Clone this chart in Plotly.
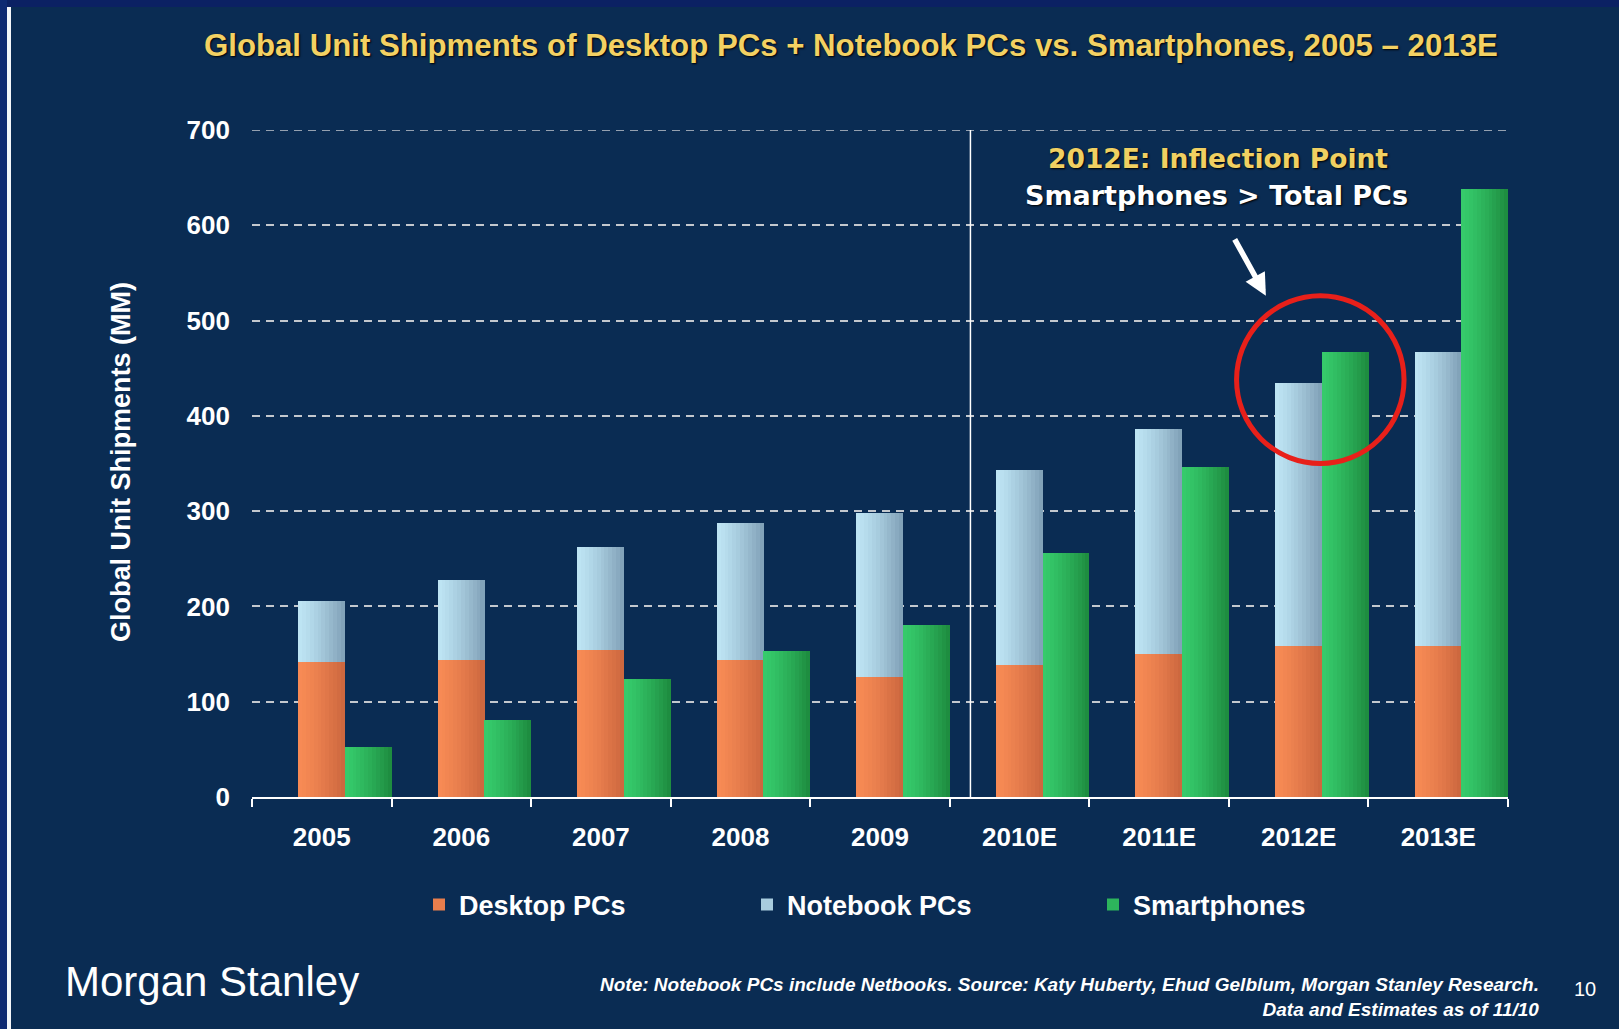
import plotly.graph_objects as go

# ---------------- data ----------------
years = ["2005", "2006", "2007", "2008", "2009", "2010E", "2011E", "2012E", "2013E"]
desktop_pcs = [142, 144, 154, 144, 126, 139, 150, 158, 158]
notebook_pcs = [64, 84, 108, 144, 172, 204, 236, 276, 309]
smartphones = [53, 81, 124, 153, 181, 256, 346, 467, 638]
y_tick_values = [0, 100, 200, 300, 400, 500, 600, 700]

# ---------------- geometry helpers ----------------
FIG_W, FIG_H = 1619, 1029
L, R, T, B = 252, 1508, 130, 797
PW, PH = R - L, B - T


def px(x):
    return (x - L) / PW


def py(y):
    return (B - y) / PH


def hex2rgb(h):
    h = h.lstrip("#")
    return tuple(int(h[i:i + 2], 16) for i in (0, 2, 4))


def mix(c1, c2, t):
    a, b = hex2rgb(c1), hex2rgb(c2)
    return "rgb(%d,%d,%d)" % tuple(round(a[i] + (b[i] - a[i]) * t) for i in range(3))


BAR_W = 0.335
OFF_PC = -0.17
OFF_SP = 0.165
NSTRIP = 12

fig = go.Figure()


def add_series(name, values, base, offset, c_left, c_right, legend_id):
    fig.add_trace(go.Bar(
        x=years, y=values, base=base, offset=offset, width=BAR_W, name=name,
        marker=dict(color=mix(c_left, c_right, 0.35), line=dict(width=0)),
        showlegend=True, legend=legend_id, hoverinfo="skip"))
    for k in range(NSTRIP):
        t = (k + 0.5) / NSTRIP
        fig.add_trace(go.Bar(
            x=years, y=values, base=base, offset=offset + k * BAR_W / NSTRIP,
            width=BAR_W / NSTRIP * 1.04,
            marker=dict(color=mix(c_left, c_right, t ** 1.3), line=dict(width=0)),
            showlegend=False, hoverinfo="skip"))


add_series("Desktop PCs", desktop_pcs, None, OFF_PC, "#F88B55", "#CB663E", "legend")
add_series("Notebook PCs", notebook_pcs, desktop_pcs, OFF_PC, "#BEE5F4", "#7F9FB6", "legend2")
add_series("Smartphones", smartphones, None, OFF_SP, "#36CB6C", "#1D8A3E", "legend3")

TICK_FONT = dict(family="Liberation Sans, Arial", size=26, color="white", weight="bold")
LEGEND_FONT = dict(family="Liberation Sans, Arial", size=27, color="white", weight="bold")
GRID_COLOR = "rgba(228,228,228,0.85)"


def legend_at(x_px):
    return dict(orientation="h", x=px(x_px), xanchor="left", y=py(905), yanchor="middle",
                font=LEGEND_FONT, bgcolor="rgba(0,0,0,0)")


fig.update_layout(
    width=FIG_W, height=FIG_H,
    margin=dict(l=L, r=FIG_W - R, t=T, b=FIG_H - B, autoexpand=False),
    paper_bgcolor="#0A2C53", plot_bgcolor="rgba(0,0,0,0)",
    barmode="overlay", bargap=0,
    legend=legend_at(419),
    legend2=legend_at(747),
    legend3=legend_at(1093),
    xaxis=dict(type="category", range=[-0.5, 8.5], showline=True, linecolor="white", linewidth=2,
               ticks="outside", tickson="boundaries", ticklen=8, tickwidth=2, tickcolor="white",
               showgrid=False, tickfont=TICK_FONT, ticklabelstandoff=16, fixedrange=True),
    yaxis=dict(range=[0, 700], tickvals=y_tick_values, showgrid=True,
               gridcolor=GRID_COLOR, gridwidth=1.5, griddash="8px,6px",
               zeroline=False, showline=False, ticks="", tickfont=TICK_FONT,
               ticklabelstandoff=21, fixedrange=True),
)

shapes = [
    # top band and left border of the slide
    dict(type="rect", xref="paper", yref="paper", x0=px(0), x1=px(FIG_W), y0=py(7), y1=py(0),
         fillcolor="#0B2163", line=dict(width=0), layer="below"),
    dict(type="rect", xref="paper", yref="paper", x0=px(0), x1=px(7), y0=py(FIG_H), y1=py(0),
         fillcolor="#0E2A72", line=dict(width=0), layer="below"),
    dict(type="rect", xref="paper", yref="paper", x0=px(7), x1=px(11), y0=py(FIG_H), y1=py(7),
         fillcolor="#F4F6FA", line=dict(width=0), layer="below"),
    # top gridline at 700 (edge of the plot area)
    dict(type="line", xref="paper", yref="y", x0=0, x1=1, y0=700, y1=700,
         line=dict(color=GRID_COLOR, width=1.5, dash="8px,6px"), layer="below"),
    # divider between actuals and estimates
    dict(type="line", xref="x", yref="y", x0=4.648, x1=4.648, y0=0, y1=700,
         line=dict(color="white", width=1.5)),
    # red circle
    dict(type="circle", xref="x", yref="y", x0=6.555, x1=7.755, y0=350, y1=526,
         line=dict(color="#E8201A", width=5)),
]
fig.update_layout(shapes=shapes)

SHADOW = "1px 1px 2px #000"
annotations = [
    dict(text="Global Unit Shipments of Desktop PCs + Notebook PCs vs. Smartphones, 2005 \u2013 2013E",
         xref="paper", yref="paper", x=px(851), y=py(45), xanchor="center", yanchor="middle",
         showarrow=False,
         font=dict(family="Liberation Sans, Arial", size=31.2, color="#F3D163", weight="bold", shadow=SHADOW)),
    dict(text="Global Unit Shipments (MM)", xref="paper", yref="paper", x=px(121), y=py(462),
         xanchor="center", yanchor="middle", textangle=-90, showarrow=False,
         font=dict(family="Liberation Sans, Arial", size=27, color="white", weight="bold")),
    dict(text="2012E: Inflection Point", xref="paper", yref="paper", x=px(1218), y=py(158),
         xanchor="center", yanchor="middle", showarrow=False,
         font=dict(family="DejaVu Sans", size=26.5, color="#F0D062", weight="bold", shadow=SHADOW)),
    dict(text="Smartphones > Total PCs", xref="paper", yref="paper", x=px(1216), y=py(195),
         xanchor="center", yanchor="middle", showarrow=False,
         font=dict(family="DejaVu Sans", size=27, color="white", weight="bold", shadow=SHADOW)),
    dict(text="", x=6.765, y=526, xref="x", yref="y", ax=-32, ay=-58, showarrow=True,
         arrowcolor="white", arrowwidth=5.5, arrowhead=2, arrowsize=0.8),
    dict(text="Morgan Stanley", xref="paper", yref="paper", x=px(212), y=py(981),
         xanchor="center", yanchor="middle", showarrow=False,
         font=dict(family="Liberation Sans, Arial", size=42, color="white")),
    dict(text="<b><i>Note: Notebook PCs include Netbooks. Source: Katy Huberty, Ehud Gelblum, Morgan Stanley Research.</i></b>"
              "<br><b><i>Data and Estimates as of 11/10</i></b>",
         xref="paper", yref="paper", x=px(1541), y=py(997), xanchor="right", yanchor="middle",
         align="right", showarrow=False,
         font=dict(family="Liberation Sans, Arial", size=19, color="white")),
    dict(text="10", xref="paper", yref="paper", x=px(1585), y=py(989), xanchor="center",
         yanchor="middle", showarrow=False,
         font=dict(family="Liberation Sans, Arial", size=20, color="white")),
]
fig.update_layout(annotations=annotations)

fig.write_html("out.html", config={"displayModeBar": False},
               post_script="document.body.style.margin='0';document.body.style.overflow='hidden';")
